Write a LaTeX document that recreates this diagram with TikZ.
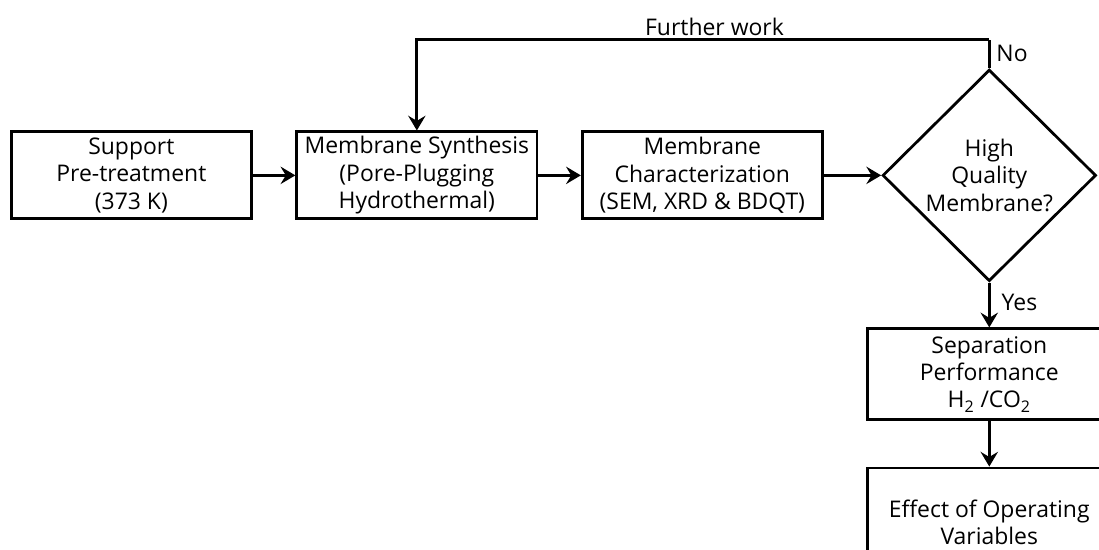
\documentclass[tikz,border=0pt]{standalone}
\usepackage{fontspec}
\setmainfont{Open Sans}
\usetikzlibrary{matrix, arrows.meta, shapes.geometric, calc}

\begin{document}
\begin{tikzpicture}[font=\fontsize{13.2}{15.8}\selectfont,
  box/.style={draw, line width=1.6pt, align=center, minimum width=4.86cm, minimum height=1.76cm, inner sep=1pt},
  dia/.style={draw, diamond, aspect=1, line width=1.6pt, align=center, minimum width=4.32cm, minimum height=4.28cm, inner sep=0pt},
  flow/.style={-{Stealth[length=8.5pt, width=10pt, inset=3pt]}, line width=1.6pt}]
\matrix (m) [column sep = 0.86cm, row sep = 0.92cm]{
\node[box](pre){Support\\Pre-treatment\\(373 K)}; & \node[box](syn){Membrane Synthesis\\(Pore-Plugging\\Hydrothermal)}; & \node[box](cha){Membrane\\Characterization\\(SEM, XRD \& BDQT)}; & \node[dia](q){High\\Quality\\Membrane?}; \\
 & & & \node[box, minimum width=4.92cm, minimum height=1.84cm](sep){Separation\\Performance\\H\textsubscript{2} /CO\textsubscript{2}}; \\
 & & & \node[box, minimum width=4.92cm, minimum height=2.2cm](eff){Effect of Operating\\Variables}; \\
};
\draw[flow] (pre) -- (syn);
\draw[flow] (syn) -- (cha);
\draw[flow] (cha) -- (q);
\draw[flow] (q) -- (sep) node[right, pos=.45, xshift=3pt]{Yes};
\draw[flow] (sep) -- (eff);
% loop back when the membrane is not good enough
\coordinate (t) at ($(q.north)+(0,0.58)$);
\draw[line width=1.6pt] (q.north) -- (t) node[right, pos=.5]{No};
\draw[flow] (t) -| (syn.north) node[above, pos=.24, inner sep=1.5pt]{Further work};
% page frame: the last boxes run off the right and bottom edges
\pgfresetboundingbox
\path[use as bounding box] ($(pre.west |- t)+(-0.2,0.8)$) rectangle ($(q.center)+(2.22,-7.56)$);
\end{tikzpicture}
\end{document}
